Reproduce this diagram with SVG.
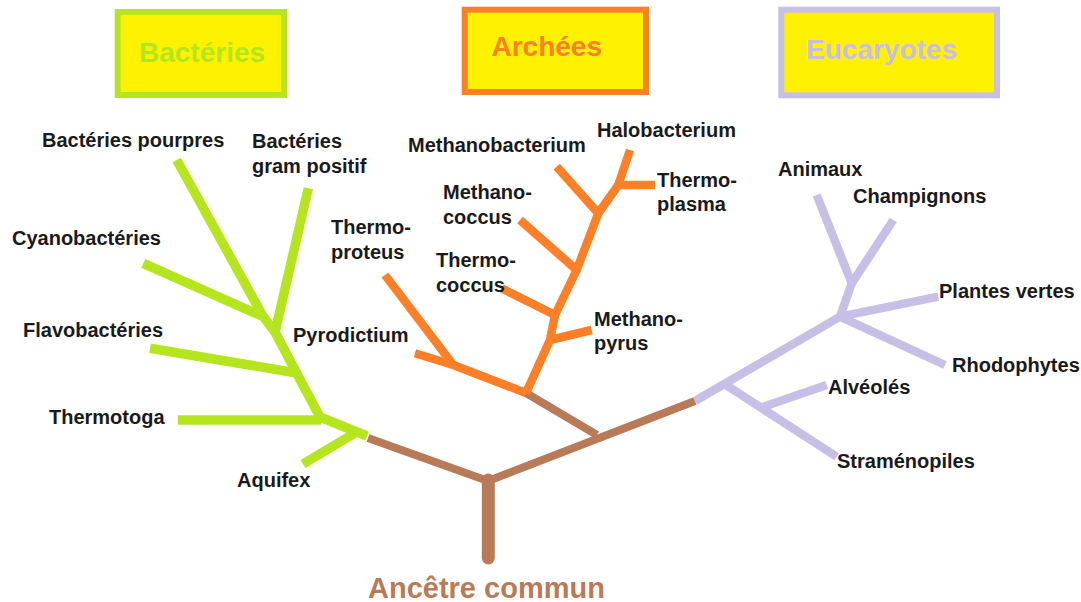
<svg xmlns="http://www.w3.org/2000/svg" width="1081" height="602" viewBox="0 0 1081 602">
<style>
.box{fill:#fff200;stroke-width:6}
.title{font-family:"Liberation Sans",Arial,sans-serif;font-weight:bold;font-size:28px}
.lbl{font-family:"Liberation Sans",Arial,sans-serif;font-weight:bold;font-size:20px;fill:#1a1a1a}
.br{fill:none;stroke-linecap:butt;stroke-linejoin:round}
.g{stroke:#b5e61d;stroke-width:9.5}
.o{stroke:#ff7f27;stroke-width:8.5}
.p{stroke:#c8bfe7;stroke-width:8.5}
.b{stroke:#b97a57;stroke-width:8}
</style>
<rect width="1081" height="602" fill="#ffffff"/>
<g id="box-bacteries">
<rect class="box" x="117.7" y="12" width="166.3" height="83" stroke="#b5e61d"/>
<text class="title" x="139" y="62" fill="#b5e61d">Bactéries</text>
</g>
<g id="box-archees">
<rect class="box" x="464.7" y="9.7" width="181.3" height="82.3" stroke="#ff7f27"/>
<text class="title" x="491.5" y="56" fill="#ff7f27">Archées</text>
</g>
<g id="box-eucaryotes">
<rect class="box" x="781.3" y="9.7" width="215.7" height="85.6" stroke="#c8bfe7"/>
<text class="title" x="806" y="58.5" fill="#c8bfe7">Eucaryotes</text>
</g>
<g id="connectors">
<g id="tronc">
<path class="br b" d="M488.3 480 L488.3 558" style="stroke-width:13;stroke-linecap:round"/>
<path class="br b" d="M368 438 L488 481 L695 401"/>
<path class="br b" d="M597 435 L526 393"/>
</g>
<g id="branches-bacteries">
<path class="br g" d="M176.7 160 L263.3 316.7 L275 332 L296.7 373.3 L320 417 L367 436"/>
<path class="br g" d="M178 420 L321 420"/>
<path class="br g" d="M355 433 L303 464"/>
<path class="br g" d="M150 348.3 L297 373"/>
<path class="br g" d="M143.3 263.3 L264 317"/>
<path class="br g" d="M308.3 188.3 L275 332"/>
</g>
<g id="branches-archees">
<path class="br o" d="M526 393 L453.3 365 L415 353.3"/>
<path class="br o" d="M453.3 365 L385 275"/>
<path class="br o" d="M526 393 L550 340 L555 315 L576.7 270 L598.3 213.3 L618.3 185 L630 150"/>
<path class="br o" d="M550 340 L591.7 330"/>
<path class="br o" d="M555 315 L501.7 288.3"/>
<path class="br o" d="M576.7 270 L520 220"/>
<path class="br o" d="M598.3 213.3 L556.7 166.7"/>
<path class="br o" d="M618.3 185 L655 185"/>
</g>
<g id="branches-eucaryotes">
<path class="br p" d="M695 401 L840 316.7 L851.7 283.3"/>
<path class="br p" d="M851.7 283.3 L816.7 195"/>
<path class="br p" d="M851.7 283.3 L893.3 220"/>
<path class="br p" d="M840 316.7 L938.3 296.7"/>
<path class="br p" d="M840 316.7 L945 365"/>
<path class="br p" d="M723.3 383.3 L836.7 456.7"/>
<path class="br p" d="M763.3 406.7 L826.7 385"/>
</g>
</g>
<g id="n-pourpres"><text class="lbl" x="42" y="147">Bactéries pourpres</text></g>
<g id="n-gram"><text class="lbl" x="252" y="148">Bactéries</text><text class="lbl" x="252" y="173">gram positif</text></g>
<g id="n-cyano"><text class="lbl" x="12" y="245">Cyanobactéries</text></g>
<g id="n-flavo"><text class="lbl" x="23" y="337">Flavobactéries</text></g>
<g id="n-thermotoga"><text class="lbl" x="49" y="424">Thermotoga</text></g>
<g id="n-aquifex"><text class="lbl" x="237" y="487">Aquifex</text></g>
<g id="n-thermoproteus"><text class="lbl" x="331" y="234">Thermo-</text><text class="lbl" x="331" y="259">proteus</text></g>
<g id="n-pyrodictium"><text class="lbl" x="293" y="342">Pyrodictium</text></g>
<g id="n-halobacterium"><text class="lbl" x="597" y="137">Halobacterium</text></g>
<g id="n-methanobacterium"><text class="lbl" x="408" y="152">Methanobacterium</text></g>
<g id="n-methanococcus"><text class="lbl" x="443" y="199">Methano-</text><text class="lbl" x="443" y="224">coccus</text></g>
<g id="n-thermoplasma"><text class="lbl" x="657" y="187">Thermo-</text><text class="lbl" x="657" y="211">plasma</text></g>
<g id="n-thermococcus"><text class="lbl" x="436" y="267">Thermo-</text><text class="lbl" x="436" y="292">coccus</text></g>
<g id="n-methanopyrus"><text class="lbl" x="594" y="326">Methano-</text><text class="lbl" x="594" y="350">pyrus</text></g>
<g id="n-animaux"><text class="lbl" x="778" y="176">Animaux</text></g>
<g id="n-champignons"><text class="lbl" x="853" y="203">Champignons</text></g>
<g id="n-plantes"><text class="lbl" x="939" y="298">Plantes vertes</text></g>
<g id="n-rhodophytes"><text class="lbl" x="952" y="372">Rhodophytes</text></g>
<g id="n-alveoles"><text class="lbl" x="828" y="394">Alvéolés</text></g>
<g id="n-stramenopiles"><text class="lbl" x="837" y="468">Straménopiles</text></g>
<g id="n-ancetre"><text class="title" x="368" y="598" fill="#b97a57" style="font-size:29px">Ancêtre commun</text></g>
</svg>
